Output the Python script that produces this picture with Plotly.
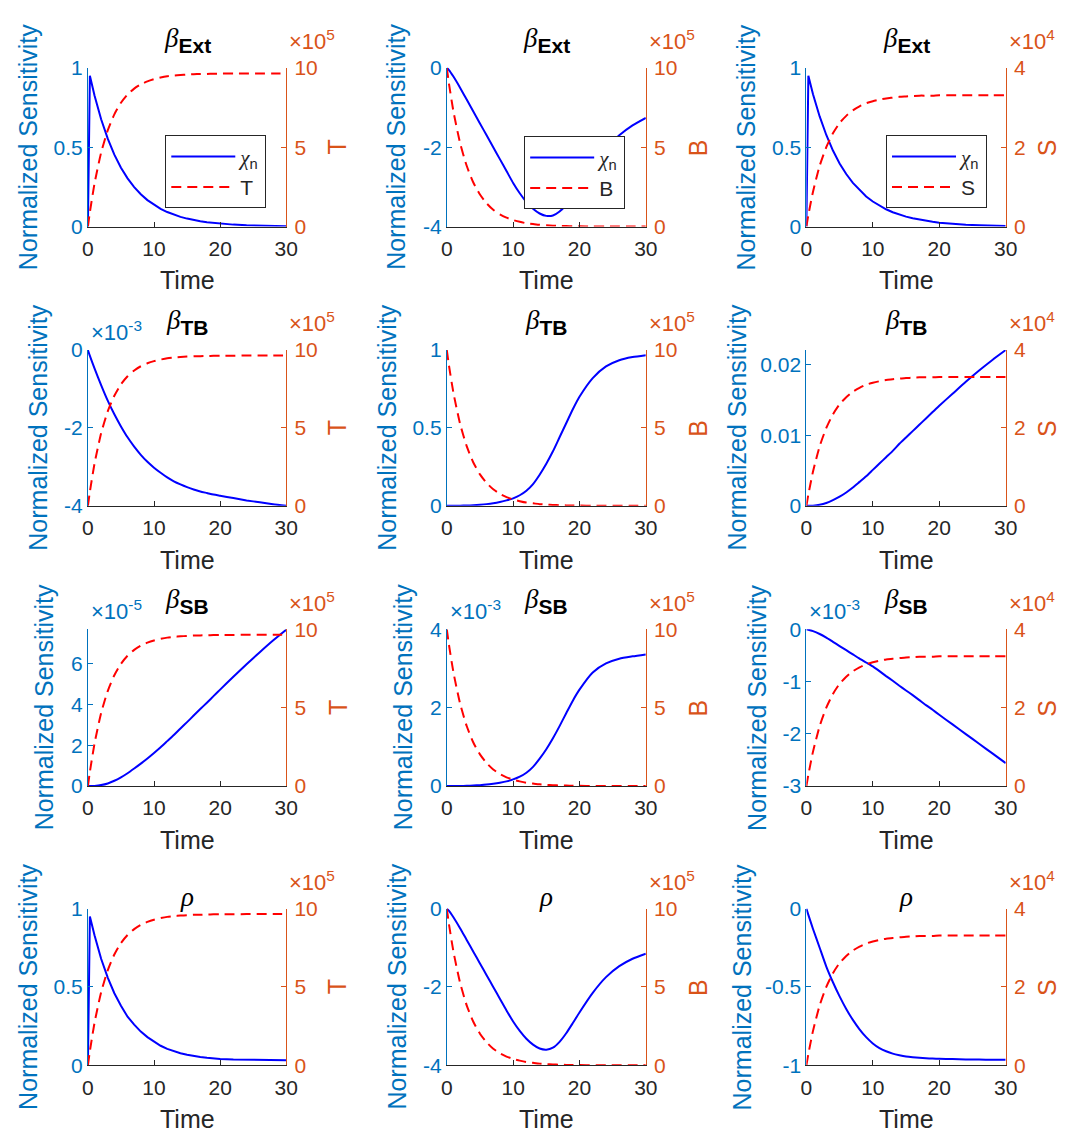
import plotly.graph_objects as go

W, H = 1075, 1142

# ---------------- data ----------------
time = [0, 0.3, 1, 2, 3, 4, 5, 6, 7, 8, 9, 10, 11, 12, 13, 14, 15, 16, 17, 18, 19, 20, 22, 24, 26, 28, 30]

# state variables (T, B in units of 1e5; S in units of 1e4)
T_e5 = [0, 0.91, 2.71, 4.66, 6.06, 7.07, 7.80, 8.32, 8.69, 8.96, 9.15, 9.29, 9.39, 9.47, 9.52, 9.55,
        9.58, 9.60, 9.61, 9.62, 9.63, 9.64, 9.64, 9.65, 9.65, 9.65, 9.65]
B_e5 = [10, 9.08, 7.26, 5.27, 3.83, 2.78, 2.02, 1.47, 1.06, 0.77, 0.56, 0.41, 0.30, 0.21, 0.16, 0.11,
        0.08, 0.06, 0.04, 0.03, 0.02, 0.017, 0.009, 0.005, 0.002, 0.001, 0.001]
S_e4 = [0, 0.29, 0.88, 1.53, 2.00, 2.35, 2.61, 2.79, 2.93, 3.03, 3.11, 3.16, 3.20, 3.23, 3.25, 3.27,
        3.28, 3.29, 3.30, 3.30, 3.30, 3.31, 3.31, 3.31, 3.31, 3.31, 3.31]

# normalized sensitivities (chi_n)
sens_ext_T = [0, 0.95, 0.826, 0.676, 0.554, 0.453, 0.371, 0.304, 0.249, 0.204, 0.167, 0.137, 0.112, 0.0915,
              0.075, 0.0614, 0.0503, 0.0411, 0.0337, 0.0276, 0.0226, 0.0185, 0.0124, 0.0083, 0.0056, 0.0037, 0.0025]
sens_ext_B = [0, -0.05, -0.22, -0.5, -0.8, -1.1, -1.4, -1.7, -2.0, -2.3, -2.6, -2.9, -3.16, -3.38, -3.55,
              -3.67, -3.73, -3.72, -3.62, -3.45, -3.22, -2.96, -2.45, -2.03, -1.7, -1.45, -1.26]
sens_ext_S = [0, 0.95, 0.834, 0.694, 0.577, 0.479, 0.398, 0.331, 0.275, 0.229, 0.19, 0.158, 0.131, 0.109,
              0.0906, 0.0753, 0.0626, 0.052, 0.0433, 0.036, 0.0299, 0.0248, 0.0171, 0.0118, 0.0082, 0.0056, 0.0039]
sens_tb_T_em3 = [0, -0.15, -0.47, -0.9, -1.3, -1.65, -1.96, -2.24, -2.48, -2.69, -2.87, -3.02, -3.15, -3.27,
                 -3.37, -3.45, -3.52, -3.58, -3.63, -3.67, -3.71, -3.74, -3.8, -3.86, -3.91, -3.96, -4.0]
sens_tb_B = [0, 0, 0, 0.001, 0.002, 0.004, 0.007, 0.011, 0.017, 0.025, 0.035, 0.048, 0.068, 0.097, 0.14,
             0.2, 0.27, 0.35, 0.44, 0.53, 0.62, 0.7, 0.82, 0.895, 0.935, 0.955, 0.967]
sens_tb_S = [0, 0, 0.00003, 0.00015, 0.0004, 0.0008, 0.0013, 0.0019, 0.0026, 0.0034, 0.0042, 0.0051, 0.006,
             0.0069, 0.0078, 0.0088, 0.0097, 0.0106, 0.0115, 0.0124, 0.0133, 0.0142, 0.0159, 0.0176, 0.0192,
             0.0207, 0.0221]
sens_sb_T_em5 = [0, 0, 0.01, 0.05, 0.13, 0.26, 0.43, 0.63, 0.86, 1.1, 1.35, 1.62, 1.9, 2.2, 2.5, 2.82, 3.13,
                 3.45, 3.77, 4.08, 4.4, 4.72, 5.35, 5.96, 6.55, 7.12, 7.65]
sens_sb_B_em3 = [0, 0, 0, 0.003, 0.007, 0.014, 0.024, 0.038, 0.06, 0.087, 0.12, 0.17, 0.24, 0.34, 0.49, 0.7,
                 0.94, 1.22, 1.53, 1.86, 2.18, 2.46, 2.9, 3.13, 3.25, 3.31, 3.36]
sens_sb_S_em3 = [0, -0.008, -0.035, -0.09, -0.16, -0.24, -0.32, -0.4, -0.48, -0.56, -0.635, -0.71, -0.8,
                 -0.895, -0.985, -1.08, -1.17, -1.26, -1.355, -1.45, -1.54, -1.635, -1.82, -2.005, -2.19,
                 -2.375, -2.56]
sens_rho_T = [0, 0.95, 0.83, 0.68, 0.56, 0.46, 0.38, 0.31, 0.26, 0.215, 0.18, 0.15, 0.125, 0.105, 0.09, 0.077,
              0.067, 0.059, 0.053, 0.048, 0.044, 0.041, 0.037, 0.035, 0.034, 0.033, 0.033]
sens_rho_B = [0, -0.05, -0.22, -0.5, -0.8, -1.1, -1.4, -1.7, -2.0, -2.3, -2.6, -2.88, -3.12, -3.32, -3.47,
              -3.57, -3.6, -3.55, -3.4, -3.18, -2.92, -2.65, -2.15, -1.75, -1.47, -1.28, -1.15]
sens_rho_S = [0, -0.04, -0.13, -0.25, -0.37, -0.47, -0.56, -0.64, -0.71, -0.77, -0.82, -0.86, -0.89, -0.91,
              -0.925, -0.935, -0.943, -0.948, -0.952, -0.955, -0.957, -0.958, -0.96, -0.962, -0.963, -0.964, -0.965]

state_series = {"T": T_e5, "B": B_e5, "S": S_e4}
panel_params = ["Ext", "Ext", "Ext", "TB", "TB", "TB", "SB", "SB", "SB", "rho", "rho", "rho"]
panel_states = ["T", "B", "S", "T", "B", "S", "T", "B", "S", "T", "B", "S"]
panel_sens = [sens_ext_T, sens_ext_B, sens_ext_S,
              sens_tb_T_em3, sens_tb_B, sens_tb_S,
              sens_sb_T_em5, sens_sb_B_em3, sens_sb_S_em3,
              sens_rho_T, sens_rho_B, sens_rho_S]
left_ranges = [[0, 1], [-4, 0], [0, 1],
               [-4, 0], [0, 1], [0, 0.0221],
               [0, 7.67], [0, 4], [-3, 0],
               [0, 1], [-4, 0], [-1, 0]]
left_ticks = [[0, 0.5, 1], [-4, -2, 0], [0, 0.5, 1],
              [-4, -2, 0], [0, 0.5, 1], [0, 0.01, 0.02],
              [0, 2, 4, 6], [0, 2, 4], [-3, -2, -1, 0],
              [0, 0.5, 1], [-4, -2, 0], [-1, -0.5, 0]]
left_exponents = [None, None, None, "-3", None, None, "-5", "-3", "-3", None, None, None]
right_ranges = {"T": [0, 10], "B": [0, 10], "S": [0, 4]}
right_ticks = {"T": [0, 5, 10], "B": [0, 5, 10], "S": [0, 2, 4]}
right_exponents = {"T": "5", "B": "5", "S": "4"}
x_ticks = [0, 10, 20, 30]

# ---------------- style ----------------
BLUE_AX = "#0072BD"
ORANGE = "#D95319"
DARK = "#262626"
FONT = "Liberation Sans, Arial, Helvetica, sans-serif"
SERIF = "Liberation Serif"
col_px = [(83.3, 285.0), (448.3, 650.7), (814.0, 1016.7)]
row_px = [(57.0, 219.0), (345.0, 504.0), (630.0, 790.0), (915.0, 1075.0)]
ylab_offset = [61, 51, 61, 51, 61, 71, 45, 45, 51, 61, 51, 66]
rlab_offset = {"T": 52, "B": 53, "S": 42}
spike_panels = {0, 2, 9}
TICK_SIZE = 21
EXP_SIZE = 22
LABEL_SIZE = 25


def fx(px):
    return px / W


def fy(py):
    return 1 - py / H


def fmt(v):
    return "{:g}".format(v)


fig = go.Figure()
layout = dict(
    width=W, height=H,
    margin=dict(l=0, r=0, t=0, b=0),
    paper_bgcolor="white", plot_bgcolor="white",
    font=dict(family=FONT, size=TICK_SIZE, color=DARK),
    showlegend=True,
)
annotations = []
legend_names = ["legend", "legend2", "legend3"]
legend_anchor_px = [(162, 126), (527, 127), (895, 126)]

for k in range(12):
    r, c = divmod(k, 3)
    x0, x1 = col_px[c]
    top, bot = row_px[r]
    xi = k + 1
    li = 2 * k + 1
    ri = 2 * k + 2
    xname = "xaxis" if xi == 1 else f"xaxis{xi}"
    xref = "x" if xi == 1 else f"x{xi}"
    lname = "yaxis" if li == 1 else f"yaxis{li}"
    lref = "y" if li == 1 else f"y{li}"
    rname = f"yaxis{ri}"
    rref = f"y{ri}"
    st = panel_states[k]

    layout[xname] = dict(
        domain=[fx(x0), fx(x1)], anchor=lref, range=[0, 30],
        tickvals=x_ticks, ticktext=[fmt(v) for v in x_ticks],
        ticks="inside", ticklen=5, tickwidth=1, tickcolor=DARK,
        showline=True, linecolor=DARK, linewidth=1,
        showgrid=False, zeroline=False, ticklabelstandoff=3,
        tickfont=dict(size=TICK_SIZE, color=DARK, family=FONT),
    )
    layout[lname] = dict(
        domain=[fy(bot), fy(top)], anchor=xref, range=left_ranges[k],
        tickvals=left_ticks[k], ticktext=[fmt(v) for v in left_ticks[k]],
        ticks="inside", ticklen=5, tickwidth=1, tickcolor=BLUE_AX,
        showline=True, linecolor=BLUE_AX, linewidth=1,
        showgrid=False, zeroline=False,
        tickfont=dict(size=TICK_SIZE, color=BLUE_AX, family=FONT),
    )
    layout[rname] = dict(
        domain=[fy(bot), fy(top)], anchor=xref, overlaying=lref, side="right",
        range=right_ranges[st],
        tickvals=right_ticks[st], ticktext=[fmt(v) for v in right_ticks[st]],
        ticks="inside", ticklen=5, tickwidth=1, tickcolor=ORANGE,
        showline=True, linecolor=ORANGE, linewidth=1,
        showgrid=False, zeroline=False, ticklabelstandoff=3,
        tickfont=dict(size=TICK_SIZE, color=ORANGE, family=FONT),
    )

    show_leg = (r == 0)
    leg = legend_names[c] if show_leg else "legend"
    fig.add_trace(go.Scatter(
        x=time, y=panel_sens[k], xaxis=xref, yaxis=lref, mode="lines",
        line=dict(color="#0000FF", width=2,
                  shape="linear" if k in spike_panels else "spline", smoothing=0.6),
        name=f"<span style='font-family:{SERIF}'><i>χ</i></span><sub>n</sub>",
        showlegend=show_leg, legend=leg,
    ))
    fig.add_trace(go.Scatter(
        x=time, y=state_series[st], xaxis=xref, yaxis=rref, mode="lines",
        line=dict(color="#FF0000", width=2, dash="10px,6px", shape="spline", smoothing=0.6),
        name=st, showlegend=show_leg, legend=leg,
    ))

    # title
    key = panel_params[k]
    if key == "rho":
        ttxt = f"<span style='font-family:{SERIF}'><i>ρ</i></span>"
        ty = top + 6
    else:
        ttxt = (f"<span style='font-family:{SERIF}'><i>β</i></span>"
                f"<sub><span style='font-size:21px'><b>{key}</b></span></sub>")
        ty = top - 9
    annotations.append(dict(
        text=ttxt, xref="paper", yref="paper", x=fx((x0 + x1) / 2), y=fy(ty),
        xanchor="center", yanchor="bottom", showarrow=False,
        font=dict(size=27, color="black", family=FONT),
    ))
    # y-left title
    annotations.append(dict(
        text="Normalized Sensitivity", xref="paper", yref="paper",
        x=fx(x0 - ylab_offset[k]), y=fy((top + bot) / 2), xanchor="center", yanchor="middle",
        textangle=-90, showarrow=False, font=dict(size=LABEL_SIZE, color=BLUE_AX, family=FONT),
    ))
    # y-right title
    annotations.append(dict(
        text=st, xref="paper", yref="paper",
        x=fx(x1 + rlab_offset[st]), y=fy((top + bot) / 2), xanchor="center", yanchor="middle",
        textangle=-90, showarrow=False, font=dict(size=LABEL_SIZE, color=ORANGE, family=FONT),
    ))
    # x title
    annotations.append(dict(
        text="Time", xref="paper", yref="paper",
        x=fx((x0 + x1) / 2), y=fy(bot + 55), xanchor="center", yanchor="middle",
        showarrow=False, font=dict(size=LABEL_SIZE, color=DARK, family=FONT),
    ))
    # exponents
    if left_exponents[k] is not None:
        annotations.append(dict(
            text=f"×10<sup>{left_exponents[k]}</sup>", xref="paper", yref="paper",
            x=fx(x0 + 1), y=fy(top - 3), xanchor="left", yanchor="bottom",
            showarrow=False, font=dict(size=EXP_SIZE, color=BLUE_AX, family=FONT),
        ))
    annotations.append(dict(
        text=f"×10<sup>{right_exponents[st]}</sup>", xref="paper", yref="paper",
        x=fx(x1 + 1), y=fy(top - 12), xanchor="left", yanchor="bottom",
        showarrow=False, font=dict(size=EXP_SIZE, color=ORANGE, family=FONT),
    ))

for i, name in enumerate(legend_names):
    lx, ly = legend_anchor_px[i]
    layout[name] = dict(
        x=fx(lx), y=fy(ly), xanchor="left", yanchor="top",
        bgcolor="white", bordercolor=DARK, borderwidth=1,
        font=dict(size=21, color=DARK, family=FONT),
        itemwidth=64, entrywidth=36, entrywidthmode="pixels", tracegroupgap=0,
    )

layout["annotations"] = annotations
fig.update_layout(**layout)
fig.write_html("out.html")
